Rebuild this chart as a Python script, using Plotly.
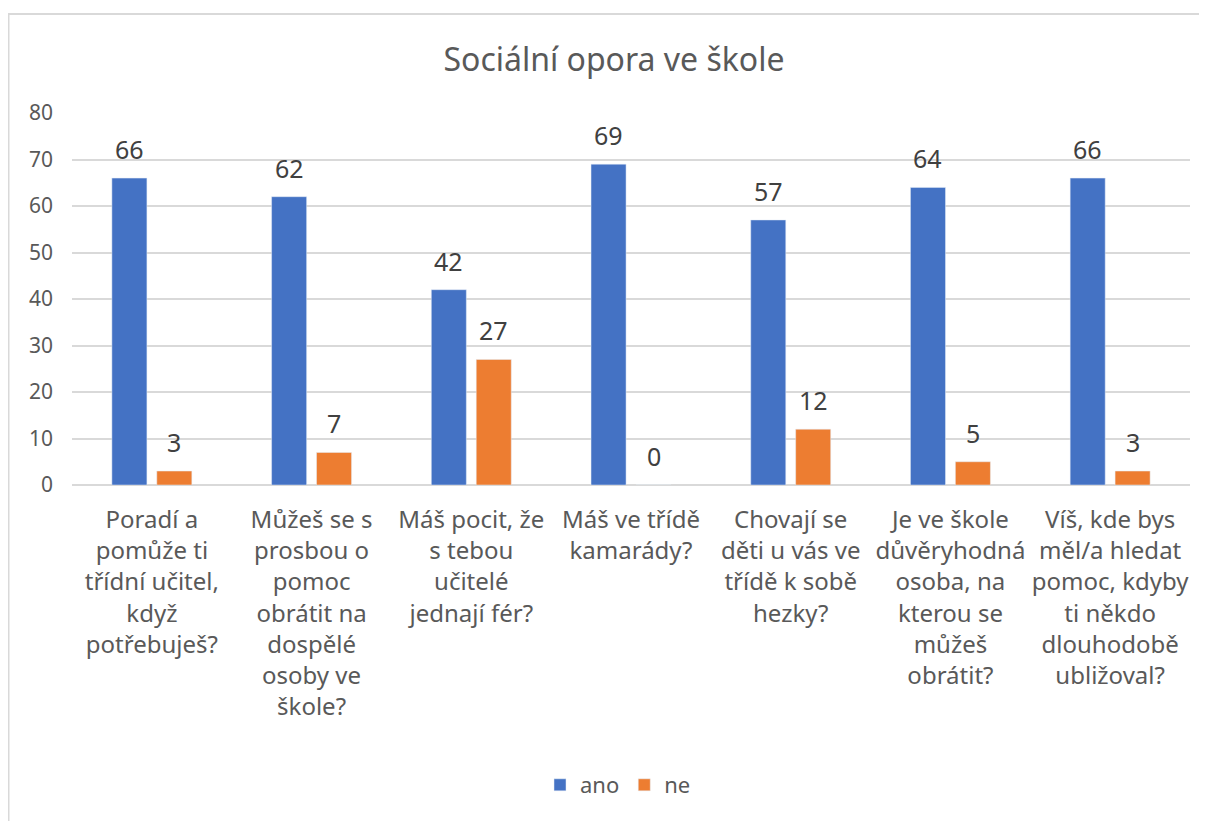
import plotly.graph_objects as go

categories = [
    "Poradí a<br>pomůže ti<br>třídní učitel,<br>když<br>potřebuješ?",
    "Můžeš se s<br>prosbou o<br>pomoc<br>obrátit na<br>dospělé<br>osoby ve<br>škole?",
    "Máš pocit, že<br>s tebou<br>učitelé<br>jednají fér?",
    "Máš ve třídě<br>kamarády?",
    "Chovají se<br>děti u vás ve<br>třídě k sobě<br>hezky?",
    "Je ve škole<br>důvěryhodná<br>osoba, na<br>kterou se<br>můžeš<br>obrátit?",
    "Víš, kde bys<br>měl/a hledat<br>pomoc, kdyby<br>ti někdo<br>dlouhodobě<br>ubližoval?",
]
ano = [66, 62, 42, 69, 57, 64, 66]
ne = [3, 7, 27, 0, 12, 5, 3]
y_ticks = [0, 10, 20, 30, 40, 50, 60, 70, 80]

FONT = "Noto Sans"
L, T, W, H = 64, 105, 1118, 372
fig = go.Figure()
fig.add_trace(go.Bar(name="ano", x=categories, y=ano, marker_color="#4472C4"))
fig.add_trace(go.Bar(name="ne", x=categories, y=ne, marker_color="#ED7D31"))

# data labels
for vals, dx in ((ano, -22.5), (ne, 22.5)):
    for c, v in zip(categories, vals):
        fig.add_annotation(x=c, y=v, xref="x", yref="y", text=str(v), showarrow=False,
                           xshift=dx, yshift=29, yanchor="middle",
                           font=dict(size=25, color="#404040", family=FONT))

fig.update_layout(
    width=1207, height=821,
    margin=dict(l=L, r=1207 - L - W, t=T, b=821 - T - H),
    paper_bgcolor="white", plot_bgcolor="white",
    barmode="group", bargap=0.4375, bargroupgap=0.22,
    title=dict(text="Sociální opora ve škole", x=(606 - L) / W, xref="paper", xanchor="center",
               y=1 - 52 / 821, yanchor="middle",
               font=dict(size=32, color="#595959", family=FONT)),
    font=dict(family=FONT, color="#595959"),
    legend=dict(orientation="h", x=(610 - L) / W, xanchor="center", y=(T + H - 777) / H,
                yanchor="middle", font=dict(size=22, color="#595959", family=FONT),
                traceorder="normal"),
)
fig.update_xaxes(tickfont=dict(size=24, color="#595959", family=FONT),
                 showgrid=False, showline=False, ticks="", ticklabelstandoff=18)
fig.update_yaxes(range=[0, 80], tickvals=y_ticks, showgrid=True, gridcolor="#D9D9D9",
                 gridwidth=1.5, zeroline=True, zerolinecolor="#D9D9D9", zerolinewidth=1.5,
                 tickfont=dict(size=21, color="#595959", family=FONT), ticks="",
                 ticklabelstandoff=18)

# outer chart border (Excel-style chart area)
fig.add_shape(type="rect", xref="paper", yref="paper",
              x0=(0.5 - L) / W, x1=(1215 - L) / W,
              y0=(T + H - 840) / H, y1=(T + H - 6) / H,
              line=dict(color="#D9D9D9", width=2), fillcolor="rgba(0,0,0,0)", layer="below")

fig.write_html("out.html")
